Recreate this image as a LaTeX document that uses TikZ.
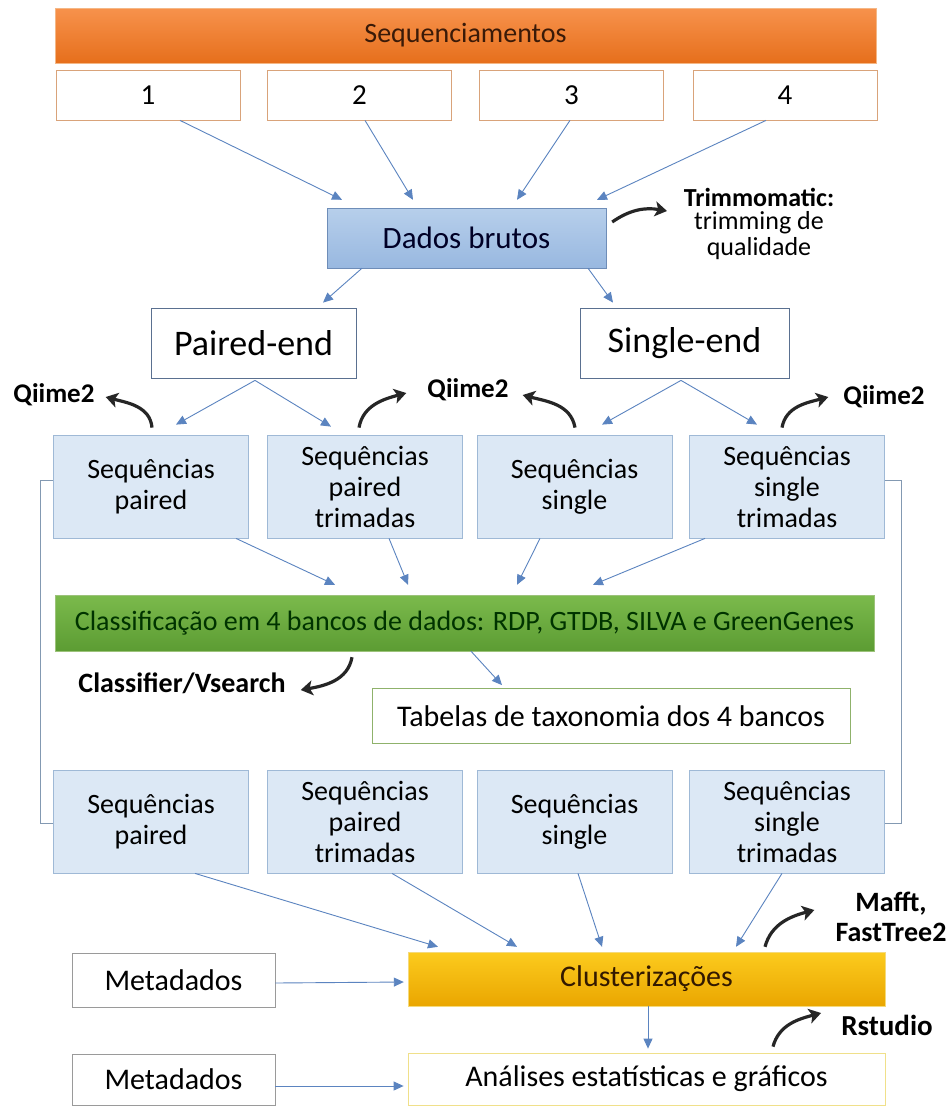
\documentclass[tikz,border=0pt]{standalone}
\usepackage{fontspec}
\setmainfont{Carlito}
\usetikzlibrary{arrows.meta}
\definecolor{orA}{HTML}{F7924C}
\definecolor{orB}{HTML}{E66F1C}
\definecolor{orBd}{HTML}{F4B786}
\definecolor{orTx}{HTML}{3A1A08}
\definecolor{numBd}{HTML}{D9A37A}
\definecolor{dbA}{HTML}{B7CFEB}
\definecolor{dbB}{HTML}{98B8E0}
\definecolor{dbBd}{HTML}{6E8DB8}
\definecolor{peBd}{HTML}{5A7090}
\definecolor{seqFill}{HTML}{DCE8F5}
\definecolor{seqBd}{HTML}{9FB9D6}
\definecolor{grA}{HTML}{7BBA4C}
\definecolor{grB}{HTML}{5C9C33}
\definecolor{grBd}{HTML}{9CC27A}
\definecolor{tabBd}{HTML}{8FB26B}
\definecolor{goA}{HTML}{FCCB1E}
\definecolor{goB}{HTML}{EAA600}
\definecolor{goBd}{HTML}{F5DA7A}
\definecolor{anBd}{HTML}{F0E08A}
\definecolor{metBd}{HTML}{9A9A9A}
\definecolor{arBlue}{HTML}{5B84C0}
\definecolor{brk}{HTML}{8399B2}
\tikzset{
  box/.style={draw, rectangle, inner sep=0pt, align=center, font=\fontsize{30}{34}\selectfont},
  numbox/.style={box, draw=numBd, line width=0.8pt, minimum width=184pt, minimum height=50pt, font=\fontsize{29}{33}\selectfont},
  seqbox/.style={box, draw=seqBd, fill=seqFill, line width=0.8pt, minimum width=195pt, minimum height=103pt, font=\fontsize{28}{31}\selectfont},
  endbox/.style={box, draw=peBd, line width=0.8pt, minimum height=70pt, font=\fontsize{36}{40}\selectfont},
  metbox/.style={box, draw=metBd, line width=0.8pt, minimum width=203pt},
  barrow/.style={draw=arBlue, line width=0.9pt, -{Triangle[length=10pt,width=9pt]}},
  carrow/.style={draw=black!85, line width=3.2pt, -{Stealth[length=12pt,width=15pt,inset=3pt]}},
  brack/.style={draw=brk, line width=0.9pt},
  lbl/.style={font=\bfseries\fontsize{27}{30}\selectfont, align=center, inner sep=0pt},
  lbln/.style={font=\fontsize{26}{30}\selectfont, align=center, inner sep=0pt}
}
\begin{document}
\begin{tikzpicture}[x=1pt,y=-1pt]
\useasboundingbox (0,0) rectangle (949,1106);
\fill[white] (0,0) rectangle (949,1106);

% top bar
\node[box, draw=orBd, top color=orA, bottom color=orB, minimum width=821pt, minimum height=55pt, text=orTx, font=\fontsize{28}{32}\selectfont] (seq) at (465.5,35.5) {Sequenciamentos};
\node[numbox] (n1) at (148,95) {1};
\node[numbox] (n2) at (359.5,95) {2};
\node[numbox] (n3) at (571.5,95) {3};
\node[numbox] (n4) at (785,95) {4};

% dados brutos
\node[box, draw=dbBd, top color=dbA, bottom color=dbB, minimum width=279pt, minimum height=60pt, font=\fontsize{31}{35}\selectfont, text=black!85!blue] (dados) at (466.5,238) {Dados brutos};
\draw[barrow] ([xshift=32pt]n1.south) -- ([xshift=-124.5pt,yshift=8pt]dados.north);
\draw[barrow] ([xshift=5.5pt]n2.south) -- ([xshift=-53.5pt,yshift=8pt]dados.north);
\draw[barrow] ([xshift=-1.5pt]n3.south) -- ([xshift=50.5pt,yshift=8pt]dados.north);
\draw[barrow] ([xshift=-19pt]n4.south) -- ([xshift=130.5pt,yshift=8pt]dados.north);

\node[lbl, font=\bfseries\fontsize{26}{30}\selectfont] (trimA) at (759,197) {Trimmomatic:};
\node[lbln] (trimB) at (759,223) {trimming de};
\node[lbln] (trimC) at (759,249) {qualidade};
\draw[carrow] ([xshift=6pt,yshift=16pt]dados.east) to[out=35,in=170] ([xshift=-27pt,yshift=12pt]trimB.west);

% paired / single
\node[endbox, minimum width=205pt] (pe) at (253.5,343) {Paired-end};
\node[endbox, minimum width=209pt] (se) at (684.5,343) {Single-end};
\draw[barrow] ([xshift=-104.5pt]dados.south) -- ([xshift=69.5pt,yshift=5pt]pe.north);
\draw[barrow] ([xshift=121.5pt]dados.south) -- ([xshift=-71.5pt,yshift=5pt]se.north);

% row 1
\node[seqbox] (a1) at (151,486.5) {Sequências\\paired};
\node[seqbox] (b1) at (365,486.5) {Sequências\\paired\\trimadas};
\node[seqbox] (c1) at (574.5,486.5) {Sequências\\single};
\node[seqbox] (d1) at (787,486.5) {Sequências\\single\\trimadas};
\draw[barrow] ([xshift=1.5pt,yshift=-2pt]pe.south) -- ([xshift=25pt,yshift=10pt]a1.north);
\draw[barrow] ([xshift=1.5pt,yshift=-2pt]pe.south) -- ([xshift=-34pt,yshift=8pt]b1.north);
\draw[barrow] ([xshift=-3.5pt,yshift=-2pt]se.south) -- ([xshift=27.5pt,yshift=10pt]c1.north);
\draw[barrow] ([xshift=-3.5pt,yshift=-2pt]se.south) -- ([xshift=-30pt,yshift=10pt]d1.north);

% Qiime2 labels
\node[lbl] (q1) at (54,395) {Qiime2};
\node[lbl] (q2) at (468,390) {Qiime2};
\node[lbl] (q3) at (884,397) {Qiime2};
\draw[carrow] ([xshift=1pt,yshift=7pt]a1.north) to[out=95,in=-15] ([xshift=11pt,yshift=-2pt]q1.east);
\draw[carrow] ([xshift=-6pt,yshift=7pt]b1.north) to[out=80,in=195] ([xshift=-21pt,yshift=-3pt]q2.west);
\draw[carrow] ([xshift=0.5pt,yshift=7pt]c1.north) to[out=100,in=-15] ([xshift=14pt,yshift=-5pt]q2.east);
\draw[carrow] ([xshift=-5pt,yshift=7pt]d1.north) to[out=80,in=195] ([xshift=-15pt,yshift=0pt]q3.west);

% green bar
\node[box, draw=grBd, top color=grA, bottom color=grB, minimum width=819pt, minimum height=56pt, text=black!80!green, font=\fontsize{28}{32}\selectfont] (green) at (464.5,623) {Classificação em 4 bancos de dados: RDP, GTDB, SILVA e GreenGenes};
\draw[barrow] ([xshift=85pt]a1.south) -- ([xshift=-129.5pt,yshift=10pt]green.north);
\draw[barrow] ([xshift=24pt]b1.south) -- ([xshift=-56.5pt,yshift=10pt]green.north);
\draw[barrow] ([xshift=-34.5pt]c1.south) -- ([xshift=52.5pt,yshift=10pt]green.north);
\draw[barrow] ([xshift=-82pt]d1.south) -- ([xshift=128.5pt,yshift=10pt]green.north);

\node[lbl, font=\bfseries\fontsize{28}{32}\selectfont] (cls) at (182,683) {Classifier/Vsearch};
\draw[carrow] ([xshift=-112.5pt,yshift=-6pt]green.south) to[out=-100,in=10] ([xshift=15pt,yshift=-7pt]cls.east);

\node[box, draw=tabBd, line width=0.8pt, minimum width=478pt, minimum height=55pt] (tab) at (611,716) {Tabelas de taxonomia dos 4 bancos};
\draw[barrow] ([xshift=6.5pt]green.south) -- ([xshift=-109pt,yshift=3pt]tab.north);

% row 2
\node[seqbox] (a2) at (151,821.5) {Sequências\\paired};
\node[seqbox] (b2) at (365,821.5) {Sequências\\paired\\trimadas};
\node[seqbox] (c2) at (574.5,821.5) {Sequências\\single};
\node[seqbox] (d2) at (787,821.5) {Sequências\\single\\trimadas};

% brackets
\draw[brack] ([yshift=6.5pt]a1.west) -- ++(-13pt,0) |- ([yshift=-1.5pt]a2.west);
\draw[brack] ([yshift=6.5pt]d1.east) -- ++(16.5pt,0) |- ([yshift=-1.5pt]d2.east);

% bottom
\node[box, draw=goBd, top color=goA, bottom color=goB, minimum width=477pt, minimum height=54pt, text=black!80!orange] (clus) at (646.5,979) {Clusterizações};
\node[box, draw=anBd, line width=0.8pt, minimum width=477pt, minimum height=52pt] (anal) at (646.5,1079) {Análises estatísticas e gráficos};
\node[metbox, minimum height=54pt] (m1) at (173.5,980) {Metadados};
\node[metbox, minimum height=51pt] (m2) at (173.5,1079.5) {Metadados};

\draw[barrow] ([xshift=44pt]a2.south) -- ([xshift=-208.5pt,yshift=5pt]clus.north);
\draw[barrow] ([xshift=27pt]b2.south) -- ([xshift=-129.5pt,yshift=5pt]clus.north);
\draw[barrow] ([xshift=3.5pt]c2.south) -- ([xshift=-44.5pt,yshift=5pt]clus.north);
\draw[barrow] ([xshift=-5pt]d2.south) -- ([xshift=89.5pt,yshift=5pt]clus.north);
\draw[barrow] ([yshift=-3pt]m1.east) -- ([xshift=-4pt,yshift=-3pt]clus.west);
\draw[barrow] ([yshift=-6.5pt]m2.east) -- ([xshift=-4pt,yshift=-7pt]anal.west);
\draw[barrow] ([xshift=1.5pt]clus.south) -- ([xshift=1.5pt,yshift=4pt]anal.north);

\node[lbl, font=\bfseries\fontsize{28}{30}\selectfont] (maf) at (891,917) {Mafft,\\FastTree2};
\draw[carrow] ([xshift=118.5pt,yshift=5pt]clus.north) to[out=75,in=195] ([xshift=-21pt,yshift=7pt]maf.west);
\node[lbl, font=\bfseries\fontsize{29}{32}\selectfont] (rst) at (887,1025) {Rstudio};
\draw[carrow] ([xshift=126.5pt,yshift=6pt]anal.north) to[out=75,in=195] ([xshift=-20pt,yshift=12pt]rst.west);
\end{tikzpicture}
\end{document}
